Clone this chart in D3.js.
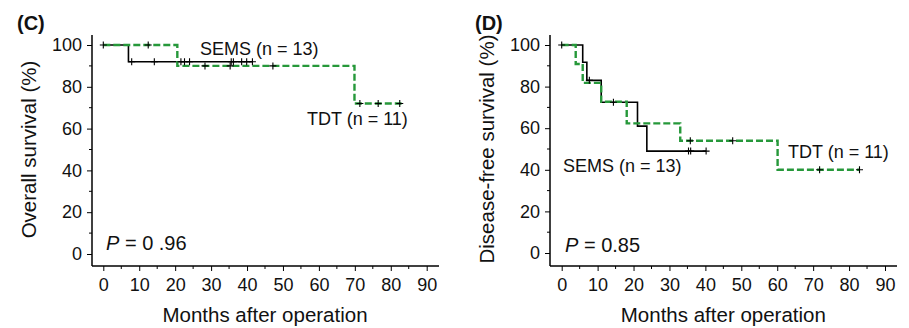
<!DOCTYPE html>
<html><head><meta charset="utf-8">
<script src="https://cdn.jsdelivr.net/npm/d3@7"></script>
<style>
body{margin:0;background:#fff;}
text{font-family:"Liberation Sans",Arial,Helvetica,sans-serif;fill:#111;}
</style></head>
<body><svg id="chart" width="909" height="328"></svg>
<script>
// ---- Data ----
const xTicks = [0,10,20,30,40,50,60,70,80,90];
const yTicks = [0,20,40,60,80,100];

// Panel C: Overall survival
const cSemsTimes = [0, 7.0];
const cSemsSurv  = [100, 92];
const cSemsEnd   = 41.5;
const cSemsCensor = [0, 7.9, 14.2, 21.6, 22.6, 24.0, 35.6, 36.2, 38.5, 39.9, 41.5];

const cTdtTimes = [0, 20.6, 69.9];
const cTdtSurv  = [100, 90, 72];
const cTdtEnd   = 83.0;
const cTdtCensor = [12.5, 28.3, 35.3, 47.2, 71.4, 76.5, 82.5];

// Panel D: Disease-free survival
const dSemsTimes = [0, 5.85, 7.0, 11.0, 21.1, 23.7];
const dSemsSurv  = [100, 91.7, 83, 72.5, 61, 49];
const dSemsEnd   = 40.2;
const dSemsCensor = [0, 7.7, 14.4, 35.3, 35.9, 40.2];

const dTdtTimes = [0, 3.9, 5.85, 11.0, 18.1, 33.0, 60.1];
const dTdtSurv  = [100, 90.9, 81.8, 72.7, 62.3, 54, 40];
const dTdtEnd   = 82.9;
const dTdtCensor = [35.8, 47.6, 71.8, 82.9];

const panels = [
  {letter:"(C)", ylabel:"Overall survival (%)", pval:" = 0 .96",
   axisX:92, x0:103.3, x90:426.7, xEnd:439, y0:254, y100:45, yTop:35, xAxisY:266,
   letterX:17, ylabelX:36,
   sems:{t:cSemsTimes,s:cSemsSurv,end:cSemsEnd,c:cSemsCensor},
   tdt:{t:cTdtTimes,s:cTdtSurv,end:cTdtEnd,c:cTdtCensor},
   semsLabel:{x:200,y:55}, tdtLabel:{x:307,y:125}, pPos:{x:106,y:250}},
  {letter:"(D)", ylabel:"Disease-free survival (%)", pval:" = 0.85",
   axisX:550, x0:561.7, x90:885, xEnd:897, y0:253, y100:45, yTop:35, xAxisY:266,
   letterX:475, ylabelX:494,
   sems:{t:dSemsTimes,s:dSemsSurv,end:dSemsEnd,c:dSemsCensor},
   tdt:{t:dTdtTimes,s:dTdtSurv,end:dTdtEnd,c:dTdtCensor},
   semsLabel:{x:563,y:172}, tdtLabel:{x:788,y:158}, pPos:{x:565,y:252}}
];

const GREEN = "#26983a";
const svg = d3.select("#chart");

function kmPoints(g){
  const pts = g.t.map((t,i)=>[t,g.s[i]]);
  pts.push([g.end, g.s[g.s.length-1]]);
  return pts;
}
function survAt(g, t){
  let v = g.s[0];
  for(let i=0;i<g.t.length;i++){ if(g.t[i]<=t) v=g.s[i]; }
  return v;
}

panels.forEach(p=>{
  const x = d3.scaleLinear().domain([0,90]).range([p.x0,p.x90]);
  const y = d3.scaleLinear().domain([0,100]).range([p.y0,p.y100]);
  const g = svg.append("g");

  // axis lines
  g.append("line").attr("x1",p.axisX).attr("x2",p.axisX).attr("y1",p.yTop).attr("y2",p.xAxisY)
    .attr("stroke","#000").attr("stroke-width",1.5);
  g.append("line").attr("x1",p.axisX).attr("x2",p.xEnd).attr("y1",p.xAxisY).attr("y2",p.xAxisY)
    .attr("stroke","#000").attr("stroke-width",1.5);

  // y ticks
  const yAxis = d3.axisLeft(y).tickValues(yTicks).tickSize(5).tickPadding(5);
  const ya = g.append("g").attr("transform",`translate(${p.axisX},0)`).call(yAxis);
  ya.select(".domain").remove();
  ya.selectAll("text").style("font-size","18px").attr("fill","#111");
  ya.selectAll("line").attr("stroke","#000");
  g.selectAll(".yminor").data(d3.range(10,100,20)).enter().append("line")
    .attr("x1",p.axisX-3).attr("x2",p.axisX).attr("y1",d=>y(d)).attr("y2",d=>y(d)).attr("stroke","#000");

  // x ticks
  const xAxis = d3.axisBottom(x).tickValues(xTicks).tickSize(5).tickPadding(7);
  const xa = g.append("g").attr("transform",`translate(0,${p.xAxisY})`).call(xAxis);
  xa.select(".domain").remove();
  xa.selectAll("text").style("font-size","18px").attr("fill","#111");
  xa.selectAll("line").attr("stroke","#000");
  g.selectAll(".xminor").data(d3.range(5,90,10)).enter().append("line")
    .attr("x1",d=>x(d)).attr("x2",d=>x(d)).attr("y1",p.xAxisY).attr("y2",p.xAxisY+3).attr("stroke","#000");

  // labels
  g.append("text").attr("x",(p.x0+p.x90)/2).attr("y",322).attr("text-anchor","middle")
    .style("font-size","20.5px").text("Months after operation");
  g.append("text").attr("transform",`translate(${p.ylabelX},${(p.y0+p.y100)/2}) rotate(-90)`)
    .attr("text-anchor","middle").style("font-size","20.5px").text(p.ylabel);
  g.append("text").attr("x",p.letterX).attr("y",30).style("font-size","20px").style("font-weight","bold").text(p.letter);

  const line = d3.line().x(d=>x(d[0])).y(d=>y(d[1])).curve(d3.curveStepAfter);

  // curves
  g.append("path").attr("d",line(kmPoints(p.sems))).attr("fill","none").attr("stroke","#000").attr("stroke-width",1.6);
  g.append("path").attr("d",line(kmPoints(p.tdt))).attr("fill","none").attr("stroke",GREEN)
    .attr("stroke-width",2.4).attr("stroke-dasharray","7,3");

  // censor marks
  const cens = [];
  p.sems.c.forEach(t=>cens.push([t,survAt(p.sems,t)]));
  p.tdt.c.forEach(t=>cens.push([t,survAt(p.tdt,t)]));
  cens.forEach(([t,s])=>{
    const cx=x(t), cy=y(s);
    g.append("path").attr("d",`M${cx-3.5},${cy}H${cx+3.5}M${cx},${cy-3.5}V${cy+3.5}`)
      .attr("stroke","#000").attr("stroke-width",1.1);
  });

  g.append("text").attr("x",p.semsLabel.x).attr("y",p.semsLabel.y).style("font-size","18px").text("SEMS (n = 13)");
  g.append("text").attr("x",p.tdtLabel.x).attr("y",p.tdtLabel.y).style("font-size","18px").text("TDT (n = 11)");
  const pt = g.append("text").attr("x",p.pPos.x).attr("y",p.pPos.y).style("font-size","20px");
  pt.append("tspan").style("font-style","italic").text("P");
  pt.append("tspan").text(p.pval);
});
</script></body></html>
